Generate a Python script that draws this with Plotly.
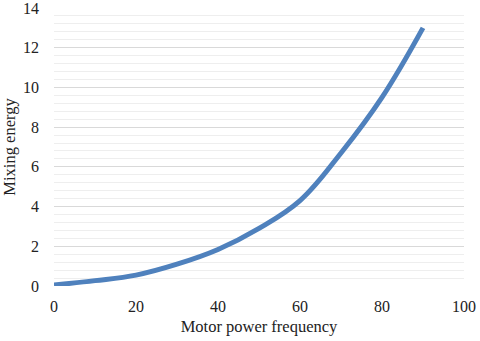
import plotly.graph_objects as go

# Mixing energy vs motor power frequency
frequency = [0, 10, 20, 30, 40, 50, 60, 70, 80, 90]
mixing_energy = [0.05, 0.27, 0.55, 1.1, 1.84, 2.9, 4.3, 6.7, 9.5, 13.0]

x_ticks = [0, 20, 40, 60, 80, 100]
y_ticks = [0, 2, 4, 6, 8, 10, 12, 14]

font_family = "Liberation Serif"
text_font = dict(family=font_family, size=16, color="#222222")
title_font = dict(family=font_family, size=16.5, color="#222222")

fig = go.Figure(go.Scatter(
    x=frequency,
    y=mixing_energy,
    mode="lines",
    line=dict(color="#4f81bd", width=5, shape="spline", smoothing=1.1),
    hoverinfo="x+y",
))

fig.update_layout(
    width=480,
    height=341,
    margin=dict(l=54, r=16, t=8, b=55),
    plot_bgcolor="white",
    paper_bgcolor="white",
    showlegend=False,
    font=text_font,
)

fig.update_xaxes(
    range=[0, 100],
    tickvals=x_ticks,
    showgrid=False,
    zeroline=False,
    showline=False,
    ticks="",
    automargin=False,
    ticklabeloverflow="allow",
    ticklabelstandoff=9,
    tickfont=text_font,
    title=dict(text="Motor power frequency", standoff=6, font=title_font),
)

fig.update_yaxes(
    range=[0, 14],
    tickvals=y_ticks,
    showgrid=True,
    gridcolor="#d9d9d9",
    gridwidth=1,
    zeroline=False,
    showline=False,
    ticks="",
    automargin=False,
    ticklabeloverflow="allow",
    ticklabelstandoff=14,
    minor=dict(dtick=0.4, showgrid=True, gridcolor="#eeeeee", gridwidth=1),
    tickfont=text_font,
    title=dict(text="Mixing energy", standoff=6, font=title_font),
)

# the page body has a default 8px margin; drop it so the chart sits at 0,0
fig.write_html("out.html", config={"displayModeBar": False},
               post_script="document.body.style.margin = '0';")
